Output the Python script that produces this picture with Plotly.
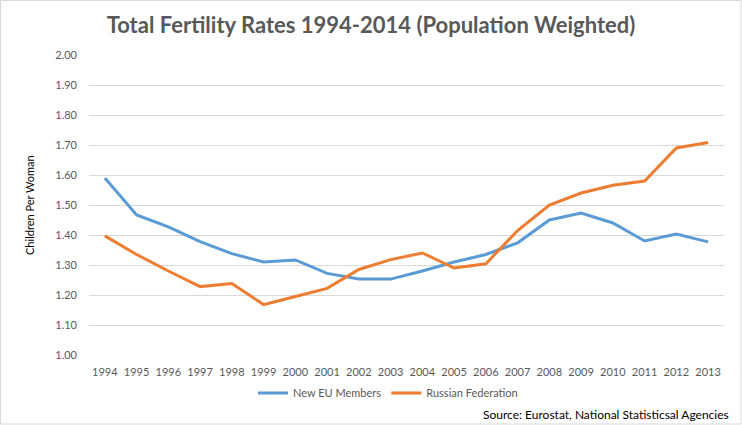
import plotly.graph_objects as go

years = [str(y) for y in range(1994, 2014)]
new_eu = [1.59, 1.467, 1.427, 1.378, 1.338, 1.31, 1.317, 1.272, 1.253, 1.253,
          1.28, 1.31, 1.335, 1.374, 1.45, 1.473, 1.44, 1.38, 1.403, 1.377]
russia = [1.397, 1.335, 1.28, 1.228, 1.238, 1.168, 1.195, 1.222, 1.285, 1.318,
          1.34, 1.29, 1.304, 1.415, 1.50, 1.54, 1.566, 1.58, 1.69, 1.708]
series_names = ["New EU Members", "Russian Federation"]
colors = ["#5B9BD5", "#ED7D31"]
y_ticks = [1.0 + 0.1 * i for i in range(11)]
y_ticklabels = ["%.2f" % v for v in y_ticks]

TXT = "#595959"
FONT = "Lato"

fig = go.Figure()
for name, vals, col in zip(series_names, [new_eu, russia], colors):
    fig.add_trace(go.Scatter(x=years, y=vals, name=name, mode="lines",
                             line=dict(color=col, width=3)))

L, R, T, B = 89, 18, 55, 70
W, H = 742, 425
pw, ph = W - L - R, H - T - B

def px_x(px):
    return (px - L) / pw

def px_y(py):
    return (H - B - py) / ph

fig.update_layout(
    width=W, height=H,
    margin=dict(l=L, r=R, t=T, b=B),
    paper_bgcolor="white", plot_bgcolor="white",
    font=dict(family=FONT, color=TXT, size=11),
    title=dict(text="<b>Total Fertility Rates 1994-2014 (Population Weighted)</b>",
               x=0.5, xanchor="center", y=1 - 25 / H, yanchor="middle",
               font=dict(family=FONT, size=22, color=TXT)),
    xaxis=dict(type="category", range=[-0.5, 19.5], showgrid=False,
               showline=False, zeroline=False, ticks="",
               ticklabelstandoff=9,
               tickfont=dict(size=11, color=TXT)),
    yaxis=dict(range=[1.0, 2.0], tickvals=y_ticks, ticktext=y_ticklabels,
               showgrid=True, gridcolor="#D9D9D9", gridwidth=1,
               zeroline=False, showline=False, ticks="",
               ticklabelstandoff=11,
               tickfont=dict(size=11, color=TXT)),
    legend=dict(orientation="h", x=px_x(388), xanchor="center",
                y=px_y(393), yanchor="middle", itemwidth=30,
                font=dict(size=11, color=TXT), bgcolor="rgba(0,0,0,0)"),
    showlegend=True,
)

fig.add_annotation(text="Children Per Woman", textangle=-90,
                   xref="paper", yref="paper", x=px_x(29), y=px_y(205),
                   xanchor="center", yanchor="middle", showarrow=False,
                   font=dict(size=11, color="#000000"))
fig.add_annotation(text="Source: Eurostat, National Statisticsal Agencies",
                   xref="paper", yref="paper", x=px_x(731), y=px_y(414),
                   xanchor="right", yanchor="middle", showarrow=False,
                   font=dict(size=12, color="#000000"))
fig.add_shape(type="rect", xref="paper", yref="paper",
              x0=px_x(0.5), x1=px_x(741), y0=px_y(424), y1=px_y(0.5),
              line=dict(color="#D9D9D9", width=1), fillcolor="rgba(0,0,0,0)",
              layer="below")

fig.write_html("out.html", config={"displayModeBar": False},
               post_script="document.body.style.margin='0';document.body.style.overflow='hidden';")
